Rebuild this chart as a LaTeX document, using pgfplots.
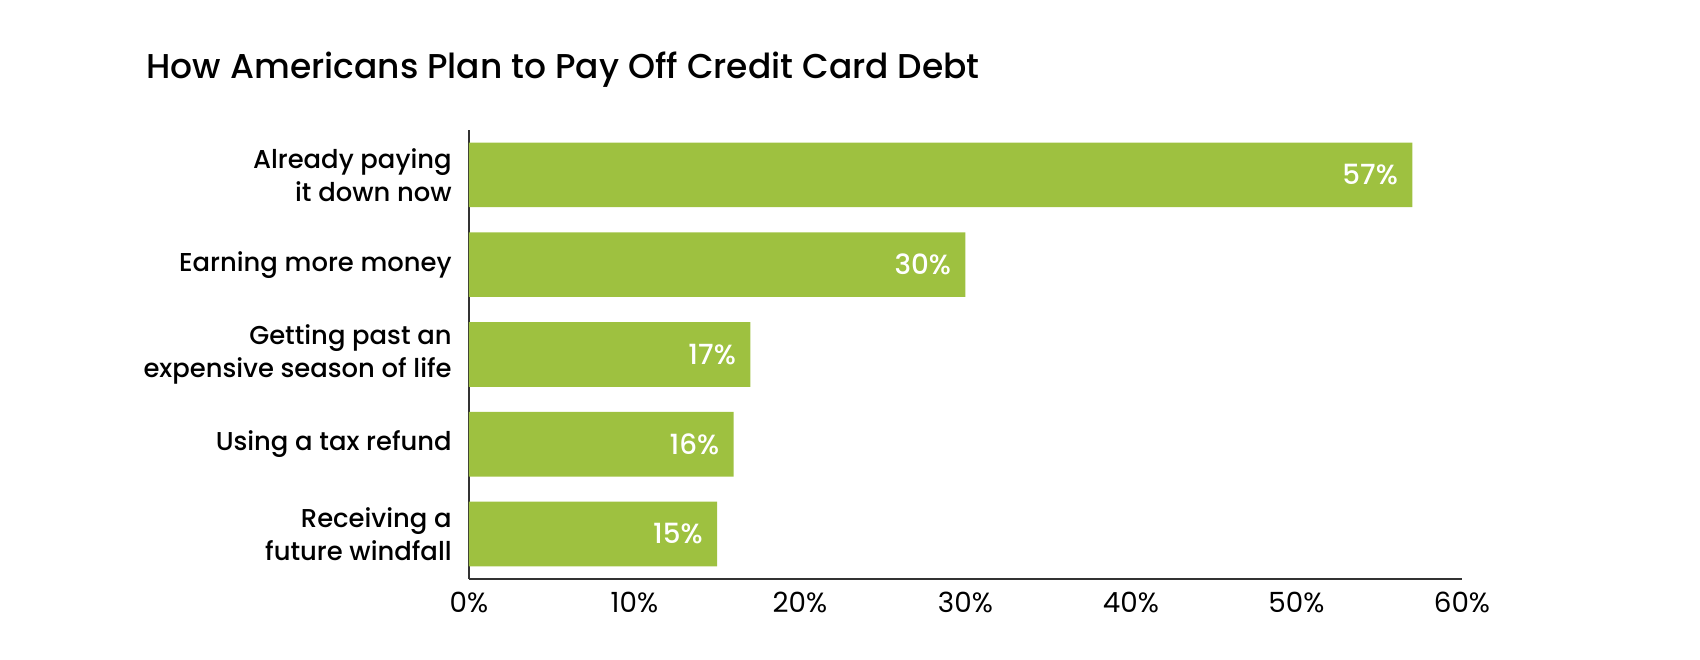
\documentclass[border=0pt]{standalone}
\usepackage{pgfplots}
\pgfplotsset{compat=1.18}
\usepackage{fontspec}
\setmainfont{Poppins}
\newfontfamily\pmed{Poppins Medium}

\definecolor{barg}{HTML}{9EC140}
\definecolor{axisc}{HTML}{333333}

% 1 px of the reference = 0.36pt
\begin{document}
\begin{tikzpicture}
\useasboundingbox (0,0) rectangle (612pt,237.6pt);

\node[anchor=base west, inner sep=0pt, font=\pmed\fontsize{12.4}{14}\selectfont]
  at (52.6pt,209.2pt) {How Americans Plan to Pay Off Credit Card Debt};

\begin{axis}[
  at={(168.8pt,29.2pt)}, anchor=south west,
  scale only axis,
  width=357.5pt, height=161.6pt,
  xbar, bar width=0.72,
  y dir=reverse,
  xmin=0, xmax=60,
  ymin=-0.5, ymax=4.5,
  axis x line*=bottom,
  axis y line*=left,
  x axis line style={axisc, line width=0.6pt},
  y axis line style={axisc, line width=0.45pt},
  major tick length=0pt,
  xtick={0,10,20,30,40,50,60},
  xticklabels={0\%,10\%,20\%,30\%,40\%,50\%,60\%},
  xticklabel style={font=\fontsize{10}{12}\selectfont, inner sep=0pt, yshift=-4.6pt},
  ytick={0,1,2,3,4},
  yticklabels={Already paying\\it down now, Earning more money,
    Getting past an\\expensive season of life, Using a tax refund,
    Receiving a\\future windfall},
  yticklabel style={font=\pmed\fontsize{9.3}{11.8}\selectfont, align=right,
    inner sep=0pt, xshift=-6pt},
  /pgf/number format/assume math mode=true,
  nodes near coords={\pgfmathprintnumber{\pgfplotspointmeta}\%},
  nodes near coords style={anchor=east, inner sep=0pt, xshift=-5pt,
    text=white, font=\pmed\fontsize{10}{12}\selectfont},
]
\addplot[fill=barg, draw=none] coordinates {
  (57,0) (30,1) (17,2) (16,3) (15,4)
};
\end{axis}
\end{tikzpicture}
\end{document}
